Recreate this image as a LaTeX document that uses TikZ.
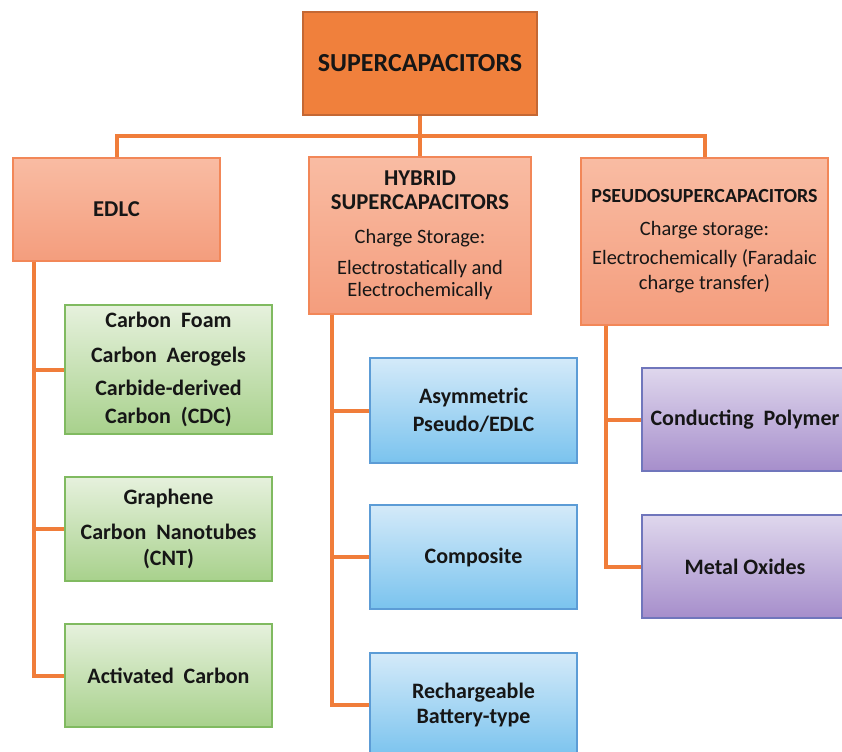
\documentclass[tikz,border=0pt]{standalone}
\usepackage{fontspec}
\setmainfont{Carlito}
\definecolor{connc}{RGB}{240,125,58}
\definecolor{topfill}{RGB}{240,128,60}
\definecolor{topborder}{RGB}{196,104,52}
\definecolor{lvtop}{RGB}{249,188,163}
\definecolor{lvbot}{RGB}{244,157,125}
\definecolor{lvborder}{RGB}{242,135,88}
\definecolor{gtop}{RGB}{230,241,221}
\definecolor{gbot}{RGB}{168,209,140}
\definecolor{gborder}{RGB}{128,186,96}
\definecolor{btop}{RGB}{212,234,249}
\definecolor{bbot}{RGB}{122,195,238}
\definecolor{bborder}{RGB}{92,156,214}
\definecolor{ptop}{RGB}{223,215,237}
\definecolor{pbot}{RGB}{166,142,203}
\definecolor{pborder}{RGB}{112,118,188}
\definecolor{txt}{RGB}{22,22,22}
\newcommand\hybB{\bfseries\fontsize{17}{16.5}\selectfont}
\newcommand\hybR{\mdseries\fontsize{15.3}{16.5}\selectfont}
\newcommand\psB{\bfseries\fontsize{15}{18.75}\selectfont}
\newcommand\psR{\mdseries\fontsize{15.3}{18.75}\selectfont}
\newcommand\wsp{\hspace{0.45em}}
\begin{document}
\begin{tikzpicture}[x=0.75pt,y=-0.75pt,
  sz/.style 2 args={minimum width=#1*0.75pt, minimum height=#2*0.75pt, inner sep=0pt},
  topbox/.style={draw=topborder, fill=topfill, line width=0.9pt, align=center, text=txt,
    font=\bfseries\fontsize{19.5}{21}\selectfont},
  lvbox/.style={draw=lvborder, line width=1pt, top color=lvtop, bottom color=lvbot, align=center, text=txt},
  gbox/.style={draw=gborder, line width=0.9pt, top color=gtop, bottom color=gbot, align=center, text=txt},
  bbox/.style={draw=bborder, line width=0.9pt, top color=btop, bottom color=bbot, align=center, text=txt},
  pbox/.style={draw=pborder, line width=0.9pt, top color=ptop, bottom color=pbot, align=center, text=txt},
  conn/.style={draw=connc, line width=3pt}
]
\useasboundingbox (0,0) rectangle (842,751);
\clip (0,0) rectangle (842,751);
\fill[white] (0,0) rectangle (842,751);

% coordinates for the connector lines
\coordinate (bus) at (0,136);
\coordinate (espine) at (34,0);
\coordinate (hspine) at (332,0);
\coordinate (pspine) at (606,0);

% connectors (drawn first, behind the boxes)
\path (420,115) coordinate (topS);
\path (116.5,158) coordinate (edlcN) (420,157) coordinate (hybN) (704.5,158) coordinate (psN);
\path (116.5,261) coordinate (edlcS) (420,314) coordinate (hybS) (704.5,325) coordinate (psS);

% main boxes
\node[topbox, sz={234}{103}] (top) at (420,63.5) {SUPERCAPACITORS};
\node[lvbox, sz={207}{103}, font=\bfseries\fontsize{17}{20}\selectfont] (edlc) at (116.5,209.5) {EDLC};
\node[lvbox, sz={222}{157}, font=\fontsize{15}{16.5}\selectfont] (hyb) at (420,235.5)
  {\hybB HYBRID\\[1.5pt]\hybB SUPERCAPACITORS\\[9pt]\hybR Charge Storage:\\[6.75pt]\hybR Electrostatically and\\\hybR Electrochemically};
\node[lvbox, sz={247}{167}, font=\fontsize{15}{18.75}\selectfont] (ps) at (704.5,241.5)
  {\psB PSEUDOSUPERCAPACITORS\\[6pt]\psR Charge storage:\\[3pt]\psR Electrochemically (Faradaic\\\psR charge transfer)};

% child boxes
\node[gbox, sz={207}{129}, font=\bfseries\fontsize{16.5}{21}\selectfont] (g1) at (168.5,369.5)
  {Carbon\wsp Foam\\[5.25pt]Carbon\wsp Aerogels\\[3.75pt]Carbide-derived\\Carbon\wsp (CDC)};
\node[gbox, sz={207}{104}, font=\bfseries\fontsize{16.5}{19.5}\selectfont] (g2) at (168.5,529)
  {Graphene\\[6.75pt]Carbon\wsp Nanotubes\\(CNT)};
\node[gbox, sz={207}{103}, font=\bfseries\fontsize{16.5}{20}\selectfont] (g3) at (168.5,675.5)
  {Activated\wsp Carbon};

\node[bbox, sz={207}{105}, font=\bfseries\fontsize{16.5}{21}\selectfont] (b1) at (473.5,410.5)
  {Asymmetric\\Pseudo/EDLC};
\node[bbox, sz={207}{104}, font=\bfseries\fontsize{16.5}{20}\selectfont] (b2) at (473.5,557)
  {Composite};
\node[bbox, sz={207}{104}, font=\bfseries\fontsize{16.5}{18.75}\selectfont] (b3) at (473.5,705)
  {Rechargeable\\Battery-type};

\node[pbox, sz={206}{103}, font=\bfseries\fontsize{16.5}{20}\selectfont] (p1) at (745,419.5)
  {Conducting\wsp Polymer};
\node[pbox, sz={206}{103}, font=\bfseries\fontsize{16.5}{20}\selectfont] (p2) at (745,566.5)
  {Metal Oxides};

% connectors
\draw[conn] (top.south) -- (top.south |- bus);
\draw[conn] (edlc.north) -- (edlc.north |- bus) -- (ps.north |- bus) -- (ps.north);
\draw[conn] (hyb.north) -- (hyb.north |- bus);

\draw[conn] (espine |- edlc.south) |- (g3.west);
\draw[conn] (espine |- g1.west) -- (g1.west);
\draw[conn] (espine |- g2.west) -- (g2.west);

\draw[conn] (hspine |- hyb.south) |- (b3.west);
\draw[conn] (hspine |- b1.west) -- (b1.west);
\draw[conn] (hspine |- b2.west) -- (b2.west);

\draw[conn] (pspine |- ps.south) |- (p2.west);
\draw[conn] (pspine |- p1.west) -- (p1.west);
\end{tikzpicture}
\end{document}
